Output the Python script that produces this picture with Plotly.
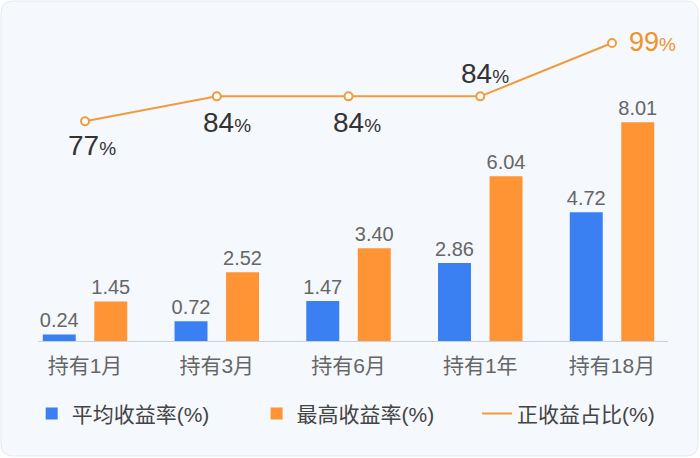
import plotly.graph_objects as go

categories = ["持有1月", "持有3月", "持有6月", "持有1年", "持有18月"]
avg_return = [0.24, 0.72, 1.47, 2.86, 4.72]
max_return = [1.45, 2.52, 3.40, 6.04, 8.01]
positive_ratio = [77, 84, 84, 84, 99]
series_names = ["平均收益率(%)", "最高收益率(%)", "正收益占比(%)"]

W, H = 700, 458
L, R, T, B = 38, 32, 20, 117
PW, PH = W - L - R, H - T - B

FONT = "Liberation Sans, Arial, Noto Sans CJK SC, sans-serif"
BLUE = "#3b80f2"
ORANGE = "#ff9434"
LINE = "#f19b3c"


def px2paper(x, y):
    return (x - L) / PW, (H - B - y) / PH


def rounded_rect(x0, y0, x1, y1, r):
    def P(x, y):
        a, b = px2paper(x, y)
        return f"{a:.5f},{b:.5f}"
    return (f"M {P(x0 + r, y0)} L {P(x1 - r, y0)} Q {P(x1, y0)} {P(x1, y0 + r)} "
            f"L {P(x1, y1 - r)} Q {P(x1, y1)} {P(x1 - r, y1)} "
            f"L {P(x0 + r, y1)} Q {P(x0, y1)} {P(x0, y1 - r)} "
            f"L {P(x0, y0 + r)} Q {P(x0, y0)} {P(x0 + r, y0)} Z")


fig = go.Figure()
fig.add_trace(go.Bar(
    x=categories, y=avg_return, name=series_names[0], legend="legend",
    marker=dict(color=BLUE, line=dict(width=0)),
    text=[f"{v:.2f}" for v in avg_return], textposition="outside",
    constraintext="none",
    textfont=dict(size=20, color="#666666", family=FONT), cliponaxis=False,
))
fig.add_trace(go.Bar(
    x=categories, y=max_return, name=series_names[1], legend="legend2",
    marker=dict(color=ORANGE, line=dict(width=0)),
    text=[f"{v:.2f}" for v in max_return], textposition="outside",
    constraintext="none",
    textfont=dict(size=20, color="#666666", family=FONT), cliponaxis=False,
))

fig.add_trace(go.Scatter(
    x=categories, y=positive_ratio, name=series_names[2], yaxis="y2",
    mode="lines+markers", showlegend=False,
    line=dict(color=LINE, width=2),
    marker=dict(symbol="circle", size=8, color="#ffffff", line=dict(color=LINE, width=2)),
    cliponaxis=False,
))
# legend entry for the line (line only, no markers)
fig.add_trace(go.Scatter(
    x=[None], y=[None], name=series_names[2], yaxis="y2", legend="legend3",
    mode="lines", line=dict(color=LINE, width=2),
))

# labels for line points
xshifts = [7, 10, 8, 5, 40]
yshifts = [-24, -26, -26, 23, 1]
label_colors = ["#333333"] * 4 + ["#f0922a"]
label_sizes = [28, 28, 28, 28, 27]
pct_sizes = [19, 19, 19, 19, 19]
for i, (c, v) in enumerate(zip(categories, positive_ratio)):
    fig.add_annotation(
        x=c, y=v, xref="x", yref="y2",
        text=f"{v}<span style='font-size:{pct_sizes[i]}px'>%</span>",
        showarrow=False, xshift=xshifts[i], yshift=yshifts[i],
        font=dict(size=label_sizes[i], color=label_colors[i], family=FONT),
    )

leg_common = dict(orientation="h", xanchor="left", y=-0.227, yanchor="middle",
                  font=dict(size=21, color="#444444"), bgcolor="rgba(0,0,0,0)")

fig.update_layout(
    width=W, height=H,
    margin=dict(l=L, r=R, t=T, b=B, autoexpand=False),
    paper_bgcolor="#ffffff", plot_bgcolor="rgba(0,0,0,0)",
    barmode="group", bargap=0.218, bargroupgap=0.36,
    font=dict(family=FONT, color="#666666"),
    xaxis=dict(
        range=[-0.357, 4.425], showgrid=False, zeroline=False,
        showline=True, linecolor="#c9d2de", linewidth=1,
        ticks="", tickfont=dict(size=21, color="#666666"),
        ticklabelstandoff=6,
    ),
    yaxis=dict(range=[0, 11.76], visible=False, showgrid=False, zeroline=False),
    yaxis2=dict(range=[15.26, 105.46], overlaying="y", visible=False, showgrid=False),
    legend=dict(x=-0.01, **leg_common),
    legend2=dict(x=0.347, **leg_common),
    legend3=dict(x=0.697, **leg_common),
    shapes=[dict(
        type="path", xref="paper", yref="paper", layer="below",
        path=rounded_rect(1, 1, 698, 456, 12),
        fillcolor="#f5f8fc", line=dict(color="#e4eaf3", width=1),
    )],
)

fig.write_html("out.html")
